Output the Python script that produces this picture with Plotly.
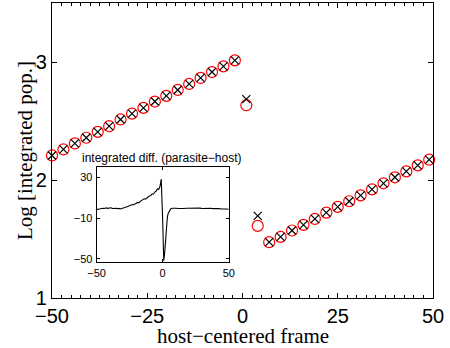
import plotly.graph_objects as go

# Main data
frame = [-50, -47, -44, -41, -38, -35, -32, -29, -26, -23, -20, -17, -14, -11, -8, -5, -2,
         1, 4, 7, 10, 13, 16, 19, 22, 25, 28, 31, 34, 37, 40, 43, 46, 49]
log_circle = [2.208, 2.259, 2.310, 2.358, 2.408, 2.456, 2.513, 2.563, 2.611, 2.665, 2.713,
              2.763, 2.814, 2.865, 2.915, 2.963, 3.014,
              2.634, 1.611, 1.473, 1.518, 1.572, 1.620, 1.670, 1.724, 1.772, 1.820, 1.870,
              1.921, 1.972, 2.023, 2.073, 2.124, 2.172]
log_cross = [2.208, 2.259, 2.310, 2.358, 2.408, 2.456, 2.513, 2.563, 2.611, 2.665, 2.713,
             2.763, 2.814, 2.865, 2.915, 2.963, 3.014,
             2.685, 1.696, 1.473, 1.518, 1.572, 1.620, 1.670, 1.724, 1.772, 1.820, 1.870,
             1.921, 1.972, 2.023, 2.073, 2.124, 2.172]

# Inset data
inset_x = [-50, -49, -48, -47, -46, -45, -44, -43, -42, -41, -40, -39, -38, -37, -36, -35,
           -34, -33, -32, -31, -30, -29, -28, -27, -26, -25, -24, -23, -22, -21, -20, -19,
           -18, -17, -16, -15, -14, -13, -12, -11, -10, -9, -8, -7, -6, -5, -4, -3, -2,
           -1.5, -1.1, 0, 0.8, 1.5, 2, 2.5, 3, 3.5, 4, 5, 6, 7, 8, 9, 10, 12, 14, 16, 18,
           20, 22, 24, 26, 28, 30, 32, 34, 36, 38, 40, 42, 44, 46, 48, 50]
inset_y = [-1.2, -1.5, -1.0, -0.6, -0.9, -0.3, -0.5, 0.1, -0.4, 0.0, -0.3, 0.2, -0.5, -0.2,
           -0.6, -0.3, -0.8, -0.5, -1.0, -0.4, -0.2, 0.3, 0.8, 1.2, 1.6, 2.3, 2.6, 3.4, 3.1,
           4.2, 4.6, 5.4, 5.0, 6.5, 7.2, 7.8, 9.0, 8.6, 10.3, 10.8, 11.8, 12.2, 13.9, 13.5,
           15.6, 16.4, 18.8, 18.2, 21.5, 24.0, 28.5, -12.0, -52.0, -44.0, -34.0, -24.0,
           -16.0, -10.0, -6.0, -2.5, -1.0, -0.4, -0.2, -0.4, -0.3, -0.5, -0.2, -0.6, -0.4,
           -0.3, -0.7, -0.4, -0.5, -0.2, -0.6, -0.4, -0.5, -0.3, -0.7, -0.5, -0.6, -0.9,
           -0.7, -1.1, -1.3]

fig = go.Figure()
fig.add_trace(go.Scatter(x=frame, y=log_circle, mode="markers", cliponaxis=False,
                         marker=dict(symbol="circle-open", size=11, color="#ff0000",
                                     line=dict(width=1.2, color="#ff0000")),
                         showlegend=False))
fig.add_trace(go.Scatter(x=frame, y=log_cross, mode="markers", cliponaxis=False,
                         marker=dict(symbol="x-thin-open", size=8, color="black",
                                     line=dict(width=1.2, color="black")),
                         showlegend=False))
fig.add_trace(go.Scatter(x=inset_x, y=inset_y, mode="lines", xaxis="x2", yaxis="y2",
                         line=dict(color="black", width=1.1), showlegend=False))

tickfont = dict(family="Liberation Sans, Arial", size=20, color="black")
small = dict(family="Liberation Sans, Arial", size=11, color="black")

fig.update_layout(
    width=450, height=348,
    margin=dict(l=52, r=17, t=3, b=50),
    paper_bgcolor="white", plot_bgcolor="white",
    xaxis=dict(range=[-50, 50], tickvals=[-50, -25, 0, 25, 50],
               ticktext=["\u221250", "\u221225", "0", "25", "50"],
               ticks="inside", ticklen=5, tickcolor="black", tickwidth=1,
               minor=dict(dtick=2.5, ticks="inside", ticklen=3, tickcolor="black", tickwidth=1),
               showline=True, linecolor="black", linewidth=1.2, mirror="ticks",
               showgrid=False, zeroline=False, tickfont=tickfont, ticklabelstandoff=0),
    yaxis=dict(range=[1, 3.5], tickvals=[1, 2, 3], ticks="inside", ticklen=5,
               tickcolor="black", tickwidth=1,
               showline=True, linecolor="black", linewidth=1.2, mirror="ticks",
               showgrid=False, zeroline=False, tickfont=tickfont, ticklabelstandoff=0),
    xaxis2=dict(domain=[0.117, 0.464], anchor="y2", range=[-50, 50],
                tickvals=[-50, 0, 50], ticktext=["\u221250", "0", "50"],
                ticks="inside", ticklen=3, tickcolor="black",
                showline=True, linecolor="black", linewidth=1, mirror="ticks",
                showgrid=False, zeroline=False, tickfont=small, ticklabelstandoff=1),
    yaxis2=dict(domain=[0.123, 0.443], anchor="x2", range=[-53, 40],
                tickvals=[-50, -10, 30], ticktext=["\u221250", "\u221210", "30"],
                ticks="inside", ticklen=3, tickcolor="black",
                showline=True, linecolor="black", linewidth=1, mirror="ticks",
                showgrid=False, zeroline=False, tickfont=small, ticklabelstandoff=1),
    annotations=[
        dict(text="host\u2212centered frame", x=0.5, y=-0.082, xref="paper", yref="paper",
             xanchor="center", yanchor="top", showarrow=False,
             font=dict(family="Liberation Serif, Times New Roman", size=21, color="black")),
        dict(text="Log [integrated pop.]", x=-0.072, y=0.5, xref="paper", yref="paper",
             xanchor="center", yanchor="middle", textangle=-90, showarrow=False,
             font=dict(family="Liberation Serif, Times New Roman", size=21, color="black")),
        dict(text="integrated diff. (parasite\u2212host)", x=0.29, y=0.445, xref="paper",
             yref="paper", xanchor="center", yanchor="bottom", showarrow=False,
             font=dict(family="Liberation Sans, Arial", size=12, color="black")),
    ],
)

fig.write_html("out.html", config={"displayModeBar": False},
               post_script="document.body.style.margin='0';document.body.style.overflow='hidden';")
